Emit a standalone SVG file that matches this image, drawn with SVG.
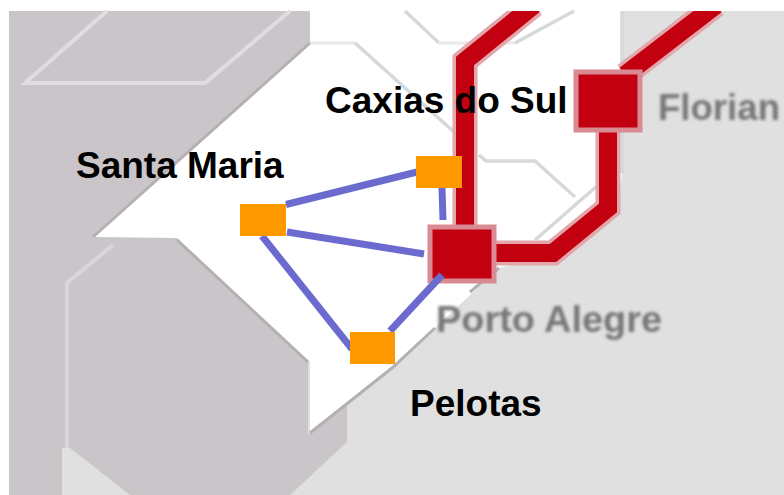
<svg xmlns="http://www.w3.org/2000/svg" width="784" height="495" viewBox="0 0 784 495">
<style>
.l{font-family:"Liberation Sans",Arial,sans-serif;font-weight:bold;font-size:37px;fill:#000}
.m{font-family:"Liberation Sans",Arial,sans-serif;font-weight:bold;font-size:36px;fill:#777;filter:url(#b)}
.grid{fill:none;stroke:#ececec;stroke-width:3.500}
.gridk{fill:none;stroke:#d6d9d9;stroke-width:3.500}
.gridd{fill:none;stroke:#e0dce0;stroke-width:4}
.coast{fill:none;stroke:#b4b0b4;stroke-width:3}
.halo{fill:none;stroke:#e2a6ab;stroke-width:25}
.red{fill:none;stroke:#c20010;stroke-width:18}
.sq{fill:#c20010;stroke:#d98b93;stroke-width:5}
.c{stroke:#6b6bcf;stroke-width:7;fill:none}
.o{fill:#ff9900}
</style>
<defs>
<filter id="b" x="-5%" y="-30%" width="110%" height="160%"><feGaussianBlur stdDeviation="1.800"/></filter>
<clipPath id="clip"><rect x="9" y="11" width="775" height="484"/></clipPath>
</defs>
<rect width="784" height="495" fill="#fff"/>
<g id="map">
<rect x="9" y="11" width="775" height="484" fill="#e0e0e0"/>
<path d="M9 11H310V43L93 237H177L308 362V434L347 400V442L290 495H130L70 448H62V495H9Z" fill="#c9c5c9"/>
<path d="M310 43V11H622V173L618 207L560 252L499 268L435 328L392 368L310 433V362L177 238L93 237Z" fill="#fff"/>
<path class="gridd" d="M107 11L25 83H205L290 11"/>
<path class="gridd" d="M113 245L67 283V448" opacity="0.700"/>
<path class="grid" d="M310 43H355"/>
<path class="gridk" d="M355 43L454 132"/>
<path class="gridk" d="M405 11L439 43"/>
<path class="grid" d="M439 43H515"/>
<path class="gridk" d="M515 43L574 11"/>
<path class="gridk" d="M479 155L486 161H535L575 197"/>
<path class="gridk" d="M597 186L535 240"/>
<path class="gridk" d="M622 11V173"/>
<path class="coast" d="M310 43L93 237M177 240L308 362M310 433L392 368L435 328M499 268L470 292"/>
</g>
<g id="red-lines" clip-path="url(#clip)">
<path class="halo" d="M465 250V61L534 5"/>
<path class="red" d="M465 250V61L534 5"/>
<path class="halo" d="M625 75L716 5"/>
<path class="red" d="M625 75L716 5"/>
<path class="halo" d="M608 120V208L553 253H490"/>
<path class="red" d="M608 120V208L553 253H490"/>
</g>
<g id="florianopolis"><rect class="sq" x="576" y="72" width="64" height="58"/><text class="m" x="658" y="120" textLength="122" lengthAdjust="spacingAndGlyphs">Florian</text></g>
<g id="porto-alegre"><rect class="sq" x="430" y="227" width="64" height="54"/><text class="m" x="436" y="332" textLength="226" lengthAdjust="spacingAndGlyphs">Porto Alegre</text></g>
<g id="connectors">
<path class="c" d="M286 204.500L417 172"/>
<path class="c" d="M287 232L424 254"/>
<path class="c" d="M262 236L352 349"/>
<path class="c" d="M442 188L443 220"/>
<path class="c" d="M442 275L390 331"/>
</g>
<g id="santa-maria"><rect class="o" x="240" y="204" width="46" height="32"/><text class="l" x="76" y="178">Santa Maria</text></g>
<g id="caxias-do-sul"><rect class="o" x="416" y="156" width="46" height="32"/><text class="l" x="325" y="113">Caxias do Sul</text></g>
<g id="pelotas"><rect class="o" x="350" y="332" width="45" height="32"/><text class="l" x="410" y="416">Pelotas</text></g>
</svg>
